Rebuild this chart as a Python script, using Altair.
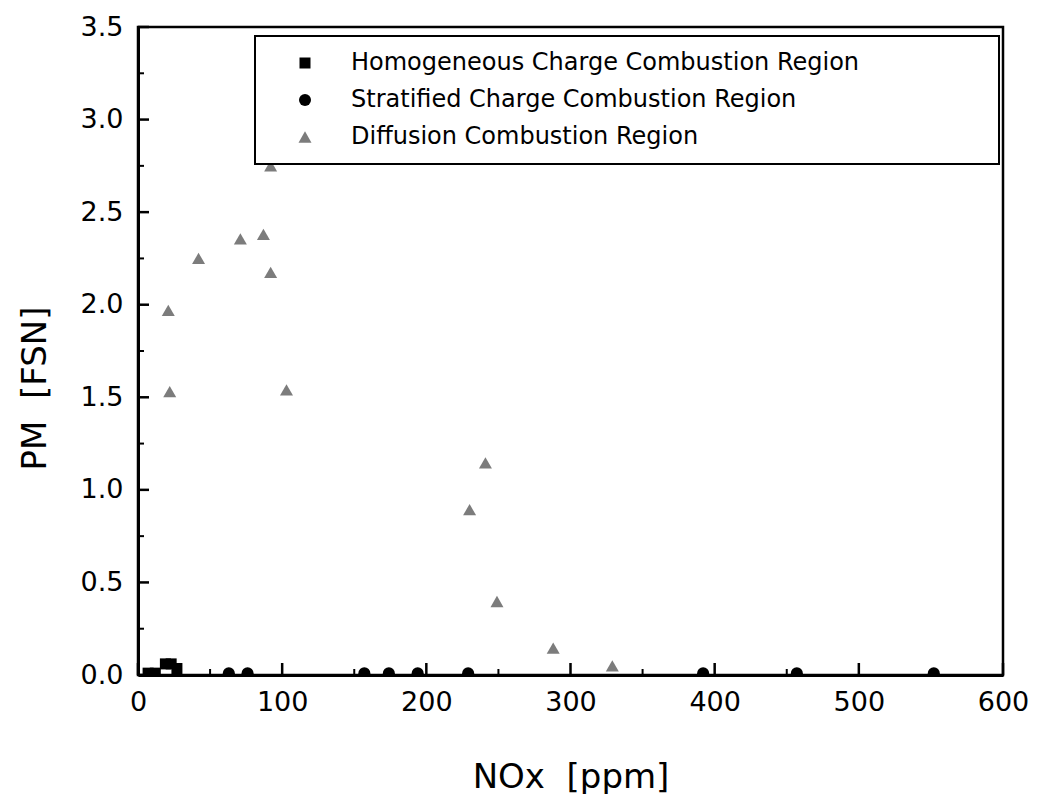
import altair as alt
import pandas as pd

series = [
    "Homogeneous Charge Combustion Region",
    "Stratified Charge Combustion Region",
    "Diffusion Combustion Region",
]

homog_x = [7, 12, 19, 23, 27]
homog_y = [0.01, 0.01, 0.06, 0.06, 0.035]

strat_x = [63, 76, 157, 174, 194, 229, 392, 457, 552]
strat_y = [0.01, 0.01, 0.01, 0.01, 0.01, 0.01, 0.01, 0.01, 0.01]

diff_x = [21, 22, 42, 71, 87, 92, 92, 103, 230, 241, 249, 288, 329]
diff_y = [1.97, 1.53, 2.25, 2.355, 2.38, 2.75, 2.175, 1.54, 0.893, 1.146, 0.397, 0.145, 0.049]

x_major = [0, 100, 200, 300, 400, 500, 600]
x_minor = [50, 150, 250, 350, 450, 550]
y_major = [0.0, 0.5, 1.0, 1.5, 2.0, 2.5, 3.0, 3.5]
y_minor = [0.25, 0.75, 1.25, 1.75, 2.25, 2.75, 3.25]

rows = []
for name, xs, ys in [(series[0], homog_x, homog_y),
                     (series[1], strat_x, strat_y),
                     (series[2], diff_x, diff_y)]:
    for a, b in zip(xs, ys):
        rows.append({"series": name, "nox": a, "pm": b})
df = pd.DataFrame(rows)

FONT = "DejaVu Sans"
W, H = 865, 648

xscale = alt.Scale(domain=[0, 600], nice=False, zero=False)
yscale = alt.Scale(domain=[0, 3.5], nice=False, zero=False)

legend = alt.Legend(title="\u00a0", titleOrient="right", titlePadding=125,
                    orient="none", legendX=117, legendY=9)

points = alt.Chart(df).mark_point(filled=True, opacity=1, clip=True).encode(
    x=alt.X("nox:Q", scale=xscale,
            axis=alt.Axis(orient="bottom", values=x_major, format="d",
                          title="NOx\u00a0\u00a0[ppm]", ticks=False, grid=False,
                          domainWidth=3, domainColor="black", labelFlush=False,
                          labelFont=FONT, labelFontSize=27, labelColor="black",
                          labelPadding=14,
                          titleFont=FONT, titleFontSize=34, titleFontWeight="normal",
                          titleColor="black", titleY=112, titleBaseline="alphabetic")),
    y=alt.Y("pm:Q", scale=yscale,
            axis=alt.Axis(orient="left", values=y_major, format=".1f",
                          title="PM\u00a0\u00a0[FSN]", ticks=False, grid=False,
                          domainWidth=3, domainColor="black",
                          labelFont=FONT, labelFontSize=27, labelColor="black",
                          labelPadding=15,
                          titleFont=FONT, titleFontSize=34, titleFontWeight="normal",
                          titleColor="black", titleX=-93, titleY=361, titleAngle=-90,
                          titleAlign="center", titleBaseline="alphabetic")),
    shape=alt.Shape("series:N",
                    scale=alt.Scale(domain=series, range=["square", "circle", "triangle-up"]),
                    legend=legend),
    color=alt.Color("series:N",
                    scale=alt.Scale(domain=series, range=["#000000", "#000000", "#7c7c7c"]),
                    legend=legend),
    size=alt.Size("series:N",
                  scale=alt.Scale(domain=series, range=[121, 169, 190]),
                  legend=None),
)


def yticks(values, length, width):
    return alt.Chart(pd.DataFrame({"v": values})).mark_rule(
        color="black", strokeWidth=width
    ).encode(
        y=alt.Y("v:Q", scale=yscale, axis=None),
        x=alt.value(0), x2=alt.value(length),
    )


def xticks(values, length, width):
    return alt.Chart(pd.DataFrame({"v": values})).mark_rule(
        color="black", strokeWidth=width
    ).encode(
        x=alt.X("v:Q", scale=xscale, axis=None),
        y=alt.value(H), y2=alt.value(H - length),
    )


chart = alt.layer(
    points,
    yticks(y_major, 11, 2.5), yticks(y_minor, 6, 2),
    xticks(x_major, 12, 2.5), xticks(x_minor, 6, 2),
).resolve_axis(
    x="independent", y="independent"
).properties(
    width=W, height=H,
    autosize=alt.AutoSizeParams(type="none"),
    padding={"left": 130, "top": 19, "right": 26, "bottom": 119},
    background="white",
).configure_view(
    stroke="black", strokeWidth=2.5
).configure_legend(
    fillColor="white", strokeColor="black", strokeWidth=2, padding=15,
    labelFont=FONT, labelFontSize=24, labelColor="black", labelLimit=0,
    symbolSize=130, labelOffset=34, rowPadding=13, symbolOffset=23,
)

chart.save("out.html", embed_options={"renderer": "svg", "actions": False})
